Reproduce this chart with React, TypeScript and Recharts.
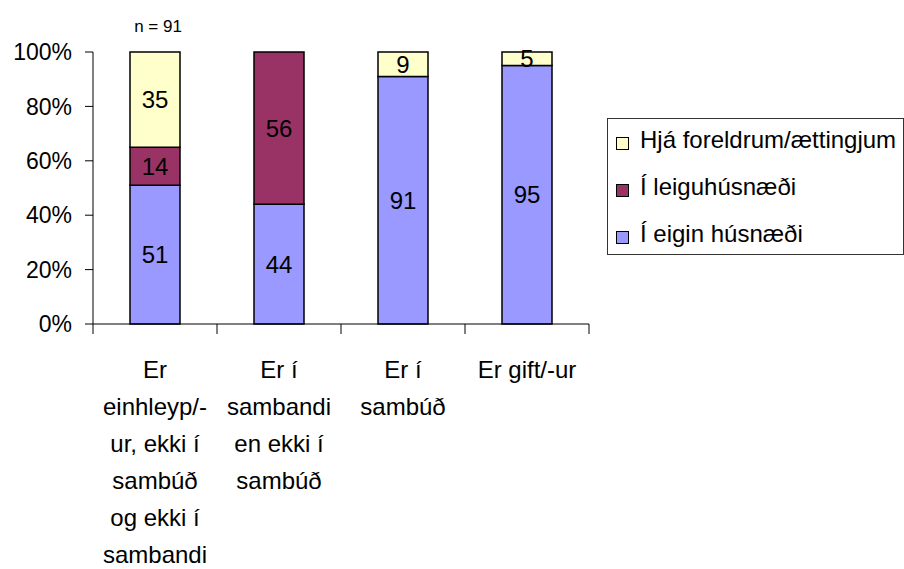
import React from 'react';
import {
  BarChart,
  Bar,
  XAxis,
  YAxis,
  Legend,
  LabelList,
} from 'recharts';

// categories, one array of wrapped lines each
const categoryLines = [
  ['Er', 'einhleyp/-', 'ur, ekki í', 'sambúð', 'og ekki í', 'sambandi'],
  ['Er í', 'sambandi', 'en ekki í', 'sambúð'],
  ['Er í', 'sambúð'],
  ['Er gift/-ur'],
];

const eiginHusnaedi = [51, 44, 91, 95];
const leiguHusnaedi = [14, 56, 0, 0];
const hjaForeldrum = [35, 0, 9, 5];
const notes = ['n = 91', '', '', ''];

const yTicks = [0, 20, 40, 60, 80, 100];
const legendOrder = ['foreldrar', 'leigu', 'eigin'];

const data = categoryLines.map((lines, i) => ({
  name: lines.join(' '),
  eigin: eiginHusnaedi[i],
  leigu: leiguHusnaedi[i],
  foreldrar: hjaForeldrum[i],
  note: notes[i],
}));

const FONT = '"Liberation Sans", Arial, sans-serif';

// label lines plus tick marks on the category boundaries (Excel style)
const CategoryTick = ({ x, y, index, payload, visibleTicksCount }: any) => {
  const lines = categoryLines[index] || [];
  const half = payload?.offset || 0;
  const isLast = index === (visibleTicksCount ?? categoryLines.length) - 1;
  return (
    <g>
      <line x1={x - half} x2={x - half} y1={y} y2={y + 10} stroke="#000" />
      {isLast && <line x1={x + half} x2={x + half} y1={y} y2={y + 10} stroke="#000" />}
      <text x={x} y={y} textAnchor="middle" fontSize={24} fontFamily={FONT} fill="#000">
        {lines.map((line, i) => (
          <tspan key={i} x={x} dy={i === 0 ? 54 : 37}>
            {line}
          </tspan>
        ))}
      </text>
    </g>
  );
};

const BoxLegend = ({ payload }: any) => {
  const items = [...(payload || [])].sort(
    (a: any, b: any) => legendOrder.indexOf(a.dataKey) - legendOrder.indexOf(b.dataKey)
  );
  return (
    <div
      style={{
        border: '1px solid #333',
        width: 297,
        height: 137,
        boxSizing: 'border-box',
        paddingLeft: 8,
        background: '#fff',
        fontFamily: FONT,
        fontSize: 24,
        color: '#000',
      }}
    >
      <div style={{ marginTop: -3 }}>
        {items.map((item: any) => (
          <div key={item.value} style={{ display: 'flex', alignItems: 'center', height: 47, whiteSpace: 'nowrap' }}>
            <span
              style={{
                display: 'inline-block',
                width: 13,
                height: 13,
                boxSizing: 'border-box',
                border: '1px solid #000',
                background: item.color,
                marginTop: 7,
                marginRight: 11,
              }}
            />
            <span>{item.value}</span>
          </div>
        ))}
      </div>
    </div>
  );
};

const hideZero = (v: any) => (v ? v : '');

export default function App() {
  return (
    <div style={{ position: 'absolute', left: 0, top: 0, background: '#fff' }}>
      <BarChart
        width={904}
        height={569}
        data={data}
        margin={{ top: 52, right: 315, left: 0, bottom: 0 }}
        barSize={50}
      >
        <XAxis
          dataKey="name"
          height={245}
          axisLine={{ stroke: '#000' }}
          tickLine={false}
          tickSize={0}
          tickMargin={0}
          interval={0}
          tick={<CategoryTick />}
        />
        <YAxis
          width={93}
          domain={[0, 100]}
          ticks={yTicks}
          tickFormatter={(v) => `${v}%`}
          tickSize={8}
          tickMargin={13}
          axisLine={{ stroke: '#000' }}
          tickLine={{ stroke: '#000' }}
          tick={{ fill: '#000', fontSize: 23, fontFamily: FONT }}
        />
        <Legend
          layout="horizontal"
          verticalAlign="middle"
          align="center"
          content={<BoxLegend />}
          wrapperStyle={{ left: 607, top: 118, width: 297, height: 137 }}
        />
        <Bar dataKey="eigin" name="Í eigin húsnæði" stackId="a" fill="#9999FF" stroke="#000" strokeWidth={1.5} isAnimationActive={false}>
          <LabelList dataKey="eigin" position="center" formatter={hideZero} fill="#000" fontSize={24} fontFamily={FONT} />
        </Bar>
        <Bar dataKey="leigu" name="Í leiguhúsnæði" stackId="a" fill="#993366" stroke="#000" strokeWidth={1.5} isAnimationActive={false}>
          <LabelList dataKey="leigu" position="center" formatter={hideZero} fill="#000" fontSize={24} fontFamily={FONT} />
        </Bar>
        <Bar dataKey="foreldrar" name="Hjá foreldrum/ættingjum" stackId="a" fill="#FFFFCC" stroke="#000" strokeWidth={1.5} isAnimationActive={false}>
          <LabelList dataKey="foreldrar" position="center" formatter={hideZero} fill="#000" fontSize={24} fontFamily={FONT} />
          <LabelList dataKey="note" position="top" offset={20} dx={3} fill="#000" fontSize={17} fontFamily={FONT} />
        </Bar>
      </BarChart>
    </div>
  );
}
